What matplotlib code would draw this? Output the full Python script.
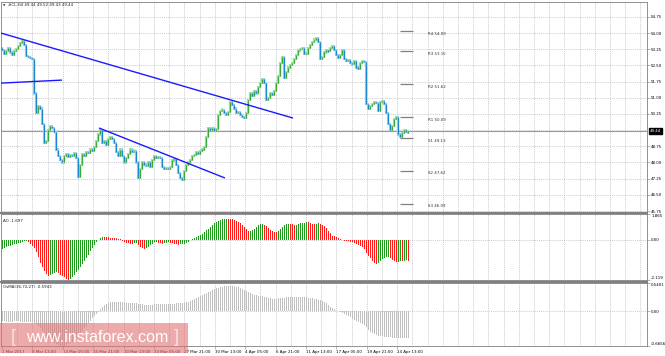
import matplotlib
matplotlib.use("Agg")
import matplotlib.pyplot as plt
from matplotlib.lines import Line2D
from matplotlib.patches import Rectangle
import numpy as np

W, H = 665, 356

# ---------------- data ----------------
close = [53.20, 53.05, 53.15, 53.30, 53.10, 53.00, 53.18, 53.25, 53.40, 53.55,
         53.65, 53.45, 52.95, 52.90, 52.85, 52.80, 51.20, 50.30, 50.60, 50.50,
         49.80, 48.90, 49.00, 49.50, 49.70, 49.60, 49.40, 48.60, 48.30, 48.10,
         48.00, 48.30, 48.40, 48.25, 48.35, 48.30, 48.45, 48.20, 47.35, 47.90,
         48.40, 48.30, 48.50, 48.45, 48.60, 48.55, 48.70, 49.00, 49.30, 49.50,
         48.90, 49.00, 48.80, 49.10, 49.20, 49.10, 48.90, 48.50, 48.30, 48.60,
         48.30, 48.00, 48.20, 48.40, 48.60, 48.50, 48.55, 48.00, 47.30, 47.70,
         48.00, 47.90, 47.85, 48.00, 47.80, 48.10, 48.30, 48.20, 48.25, 48.20,
         47.80, 47.70, 47.75, 47.70, 47.80, 48.10, 48.15, 47.90, 47.50, 47.30,
         47.20, 47.60, 47.90, 48.00, 48.10, 48.30, 48.35, 48.50, 48.40, 48.55,
         48.60, 48.70, 49.20, 49.60, 49.50, 49.60, 49.45, 49.55, 50.20, 50.40,
         50.45, 50.30, 50.20, 50.35, 50.80, 50.65, 50.50, 50.30, 50.35, 50.20,
         50.10, 50.05, 50.30, 50.90, 51.20, 51.10, 51.30, 51.20, 51.50, 51.70,
         51.85, 51.70, 50.90, 51.00, 51.20, 51.15, 51.30, 51.70, 52.00, 52.60,
         52.90, 51.90, 52.20, 52.40, 52.50, 52.60, 52.80, 53.00, 53.20, 53.25,
         53.30, 53.05, 53.05, 53.30, 53.45, 53.60, 53.70, 53.75, 53.60, 52.80,
         52.90, 53.10, 53.20, 53.15, 53.30, 53.40, 53.20, 53.00, 52.85, 53.00,
         53.20, 52.80, 52.70, 52.75, 52.60, 52.55, 52.70, 52.40, 52.35, 52.60,
         52.70, 52.65, 50.70, 50.50, 50.60, 50.70, 50.80, 50.75, 50.40, 50.80,
         50.85, 50.70, 50.30, 49.80, 49.50, 49.70, 50.00, 50.10, 49.30, 49.20,
         49.35, 49.50, 49.40, 49.44]
first_open = 53.30

ao = [-0.46, -0.42, -0.38, -0.34, -0.30, -0.26, -0.23, -0.20, -0.17, -0.14,
      -0.11, -0.08, -0.06, -0.12, -0.20, -0.30, -0.45, -0.65, -0.90, -1.20,
      -1.45, -1.65, -1.80, -1.90, -1.86, -1.80, -1.74, -1.70, -1.75, -1.84,
      -1.92, -1.98, -2.05, -2.10, -2.04, -1.95, -1.85, -1.72, -1.58, -1.45,
      -1.30, -1.12, -0.95, -0.78, -0.60, -0.42, -0.25, -0.12, 0.00, 0.10,
      0.16, 0.15, 0.14, 0.13, 0.12, 0.11, 0.10, 0.09, 0.07, 0.03,
      -0.04, -0.10, -0.15, -0.18, -0.20, -0.22, -0.18, -0.16, -0.28, -0.36,
      -0.42, -0.47, -0.44, -0.38, -0.28, -0.20, -0.13, -0.11, -0.14, -0.18,
      -0.20, -0.18, -0.15, -0.13, -0.16, -0.19, -0.21, -0.23, -0.25, -0.24,
      -0.23, -0.20, -0.16, -0.10, -0.03, 0.04, 0.12, 0.17, 0.21, 0.27,
      0.33, 0.40, 0.50, 0.58, 0.66, 0.78, 0.88, 0.95, 1.00, 1.05,
      1.08, 1.10, 1.12, 1.10, 1.09, 1.08, 1.06, 1.00, 0.94, 0.88,
      0.80, 0.70, 0.58, 0.47, 0.49, 0.53, 0.58, 0.68, 0.76, 0.82,
      0.84, 0.80, 0.75, 0.64, 0.54, 0.46, 0.41, 0.40, 0.48, 0.58,
      0.70, 0.76, 0.82, 0.86, 0.85, 0.82, 0.78, 0.80, 0.83, 0.87,
      0.89, 0.91, 0.93, 0.92, 0.89, 0.86, 0.84, 0.85, 0.87, 0.86,
      0.80, 0.72, 0.60, 0.48, 0.34, 0.22, 0.18, 0.14, 0.08, 0.02,
      -0.02, -0.04, -0.06, -0.08, -0.10, -0.13, -0.17, -0.21, -0.26, -0.31,
      -0.40, -0.50, -0.68, -0.84, -0.98, -1.12, -1.20, -1.25, -1.20, -1.10,
      -1.02, -0.97, -0.93, -0.90, -0.95, -1.05, -1.12, -1.18, -1.16, -1.13,
      -1.14, -1.10, -1.08, -1.09]

osma = [-0.19, -0.19, -0.20, -0.20, -0.20, -0.20, -0.19, -0.19, -0.19, -0.20,
        -0.20, -0.20, -0.20, -0.20, -0.21, -0.21, -0.22, -0.24, -0.28, -0.32,
        -0.37, -0.42, -0.47, -0.51, -0.55, -0.58, -0.61, -0.63, -0.65, -0.66,
        -0.665, -0.66, -0.65, -0.63, -0.61, -0.58, -0.55, -0.51, -0.47, -0.43,
        -0.38, -0.33, -0.28, -0.23, -0.18, -0.13, -0.09, -0.05, -0.01, 0.04,
        0.08, 0.11, 0.14, 0.16, 0.17, 0.18, 0.18, 0.18, 0.18, 0.17,
        0.17, 0.17, 0.16, 0.16, 0.16, 0.15, 0.15, 0.15, 0.14, 0.14,
        0.13, 0.12, 0.12, 0.12, 0.12, 0.12, 0.13, 0.13, 0.13, 0.13,
        0.13, 0.13, 0.14, 0.14, 0.14, 0.14, 0.14, 0.15, 0.15, 0.15,
        0.15, 0.16, 0.17, 0.18, 0.19, 0.21, 0.23, 0.25, 0.27, 0.29,
        0.31, 0.33, 0.35, 0.37, 0.39, 0.41, 0.43, 0.44, 0.45, 0.46,
        0.47, 0.48, 0.48, 0.49, 0.49, 0.48, 0.48, 0.47, 0.46, 0.45,
        0.43, 0.41, 0.39, 0.37, 0.35, 0.33, 0.32, 0.31, 0.30, 0.30,
        0.29, 0.28, 0.27, 0.26, 0.25, 0.24, 0.24, 0.24, 0.25, 0.25,
        0.26, 0.26, 0.27, 0.27, 0.27, 0.27, 0.27, 0.27, 0.27, 0.27,
        0.27, 0.27, 0.27, 0.26, 0.26, 0.25, 0.24, 0.23, 0.22, 0.21,
        0.20, 0.18, 0.15, 0.12, 0.09, 0.06, 0.04, 0.02, 0.00, -0.02,
        -0.04, -0.06, -0.08, -0.10, -0.12, -0.14, -0.16, -0.18, -0.20, -0.22,
        -0.24, -0.27, -0.31, -0.35, -0.39, -0.42, -0.44, -0.46, -0.47, -0.48,
        -0.48, -0.49, -0.49, -0.50, -0.50, -0.51, -0.51, -0.52, -0.52, -0.52,
        -0.52, -0.52, -0.51, -0.51]

# analyst trendlines: (bar0, price0, bar1, price1)
trend_lines = [(-0.5, 54.00, 145.5, 50.06),
               (-0.5, 51.68, 30.0, 51.82),
               (48.5, 49.60, 111.5, 47.28)]

pivot_names = ["R4", "R3", "R2", "R1", "S1", "S2", "S3"]
pivot_levels = [54.09, 53.15, 51.62, 50.09, 49.13, 47.62, 46.09]

time_labels = ["1 Mar 2017", "8 Mar 13:00", "13 Mar 05:00", "15 Mar 21:00",
               "20 Mar 13:00", "23 Mar 05:00", "27 Mar 21:00", "30 Mar 13:00",
               "4 Apr 05:00", "6 Apr 21:00", "11 Apr 13:00", "17 Apr 05:00",
               "19 Apr 21:00", "24 Apr 13:00"]

price_ticks = [45.75, 46.50, 47.25, 48.00, 48.75, 49.50, 50.25, 51.00,
               51.75, 52.50, 53.25, 54.00, 54.75]
last_price = 49.44
header = "#CL,H4 49.44 49.52 49.43 49.44"
ao_text = "AO -1.697"
osma_text = "OsMA(36,72,27) -0.5943"
ao_range = (-2.119, 1.365)
ao_labels = ["1.865", "0.00", "-2.119"]
osma_range = (-0.6656, 0.5401)
osma_labels = ["0.5401", "0.00", "-0.6656"]

# ---------------- figure ----------------
FS = 2.9
plt.rcParams['font.family'] = ['DejaVu Sans']
fig = plt.figure(figsize=(W / 100, H / 100), dpi=100)
fig.patch.set_facecolor('white')


def frac(x0, y0, x1, y1):
    return [x0 / W, 1 - y1 / H, (x1 - x0) / W, (y1 - y0) / H]


ax = fig.add_axes(frac(1, 2, 647, 212))
ax_ao = fig.add_axes(frac(1, 214, 647, 280), sharex=ax)
ax_os = fig.add_axes(frac(1, 283, 647, 346), sharex=ax)

n = min(len(close), len(ao), len(osma))
x = np.arange(n)
XMAX = -0.5 + 646 / 2.0
grid_col = '#b4b8c0'
vgrid = np.arange(7.6, XMAX, 7.6)

for a in (ax, ax_ao, ax_os):
    a.set_xlim(-0.5, XMAX)
    a.set_facecolor('white')
    for s in a.spines.values():
        s.set_color('#808080')
        s.set_linewidth(0.6)
    a.yaxis.tick_right()
    a.tick_params(axis='y', length=2, width=0.4, colors='#808080',
                  labelcolor='black', labelsize=FS, pad=1)
    a.tick_params(axis='x', length=0, labelbottom=False)
    for gx in vgrid:
        a.axvline(gx, color=grid_col, lw=0.5, ls=(0, (1.5, 1.5)), zorder=0)

# ---- main price panel ----
ax.set_ylim(45.705, 55.44)
shown = [t for t in price_ticks if abs(t - 49.50) > 1e-6]
ax.set_yticks(shown)
ax.set_yticklabels(["%.2f" % t for t in shown])
for t in price_ticks:
    ax.axhline(t, color=grid_col, lw=0.5, ls=(0, (1.5, 1.5)), zorder=0)
ax.axhline(last_price, color='#9a9a9a', lw=0.8, zorder=1)

opens = [first_open] + close[:n - 1]
up_dark, up_light = '#3aa83a', '#a6dca6'
dn_dark, dn_light = '#1a86cc', '#9ccfee'
lo = []
hi = []
cols_d = []
cols_l = []
for i in range(n):
    o, c = opens[i], close[i]
    a_, b_ = min(o, c), max(o, c)
    if b_ - a_ < 0.06:
        m = (a_ + b_) / 2
        a_, b_ = m - 0.03, m + 0.03
    lo.append(a_)
    hi.append(b_)
    if c >= o:
        cols_d.append(up_dark); cols_l.append(up_light)
    else:
        cols_d.append(dn_dark); cols_l.append(dn_light)
ax.vlines(x, np.array(lo) - 0.05, np.array(hi) + 0.05, colors=cols_l, lw=1.6, zorder=2)
ax.vlines(x, lo, hi, colors=cols_d, lw=0.9, zorder=3)

for (b0, p0, b1, p1) in trend_lines:
    ax.plot([b0, b1], [p0, p1], color='#1a1aff', lw=1.0, zorder=4,
            solid_capstyle='butt')

for name, lev in zip(pivot_names, pivot_levels):
    ax.hlines(lev, 199, 205.5, color='#808080', lw=0.9, zorder=4)
    ax.annotate("%s %.2f" % (name, lev), (213, lev), xytext=(0, -0.3),
                textcoords='offset points', va='top', ha='left',
                fontsize=FS, color='#333333')

ax.annotate("%.2f" % last_price, xy=(1.0, last_price),
            xycoords=('axes fraction', 'data'), xytext=(2.2, 0),
            textcoords='offset points', va='center', ha='left',
            fontsize=FS, color='white', annotation_clip=False,
            bbox=dict(boxstyle='square,pad=0.25', fc='black', ec='black'))

# ---- AO panel ----
ax_ao.set_ylim(*ao_range)
ao_v = np.array(ao[:n])
ao_cols = ['#1f9a1f'] + ['#1f9a1f' if ao_v[i] > ao_v[i - 1] else '#ff1a1a'
                         for i in range(1, n)]
ax_ao.bar(x, ao_v, width=0.5, color=ao_cols, linewidth=0, zorder=2,
          antialiased=False)
ax_ao.axhline(0, color=grid_col, lw=0.5, ls=(0, (1.5, 1.5)), zorder=1)
ax_ao.set_yticks([ao_range[1], 0, ao_range[0]])
ax_ao.set_yticklabels(ao_labels)
tl = ax_ao.get_yticklabels()
tl[0].set_va('top'); tl[2].set_va('bottom')

# ---- OsMA panel ----
ax_os.set_ylim(*osma_range)
ax_os.bar(x, osma[:n], width=0.5, color='#c0c0c0', linewidth=0, zorder=2,
          antialiased=False)
ax_os.axhline(0, color=grid_col, lw=0.5, ls=(0, (1.5, 1.5)), zorder=1)
ax_os.set_yticks([osma_range[1], 0, osma_range[0]])
ax_os.set_yticklabels(osma_labels)
tl = ax_os.get_yticklabels()
tl[0].set_va('top'); tl[2].set_va('bottom')

tick_pos = [0.0] + [15.2 * k for k in range(1, len(time_labels))]
ax_os.set_xticks(tick_pos)
ax_os.set_xticklabels(time_labels)
ax_os.tick_params(axis='x', labelbottom=True, length=2, width=0.4,
                  colors='#808080', labelcolor='black', labelsize=FS, pad=0.8)
for lab in ax_os.get_xticklabels():
    lab.set_ha('left')

# ---- separators ----
for yy in (213, 281.5):
    fig.add_artist(Line2D([0, 647 / W], [1 - yy / H, 1 - yy / H],
                          color='#808080', lw=1.6, transform=fig.transFigure))

# ---- texts ----
fig.text(3 / W, 1 - 5.5 / H, "\u25BC", fontsize=2.2, color='#333333', va='center')
fig.text(8 / W, 1 - 5.5 / H, header, fontsize=FS, color='#222222', va='center')
fig.text(3 / W, 1 - 221 / H, ao_text, fontsize=FS, color='#222222', va='center')
fig.text(3 / W, 1 - 286.5 / H, osma_text, fontsize=FS, color='#222222', va='center')

# ---- watermark ----
fig.add_artist(Rectangle((0, 1 - 353 / H), 188 / W, 30 / H, transform=fig.transFigure,
                         facecolor='#e07272', alpha=0.6, edgecolor='none', zorder=5))
fig.text(97 / W, 1 - 337 / H, "www.instaforex.com", fontsize=11.5, color='white',
         ha='center', va='center', family='Liberation Sans', zorder=6)
fig.text(13 / W, 1 - 337 / H, "[", fontsize=13, color='#fbe3e3', ha='center',
         va='center', family='Liberation Sans', zorder=6)
fig.text(176 / W, 1 - 337 / H, "]", fontsize=13, color='#fbe3e3', ha='center',
         va='center', family='Liberation Sans', zorder=6)

fig.savefig("out.png", dpi=100, facecolor='white')
